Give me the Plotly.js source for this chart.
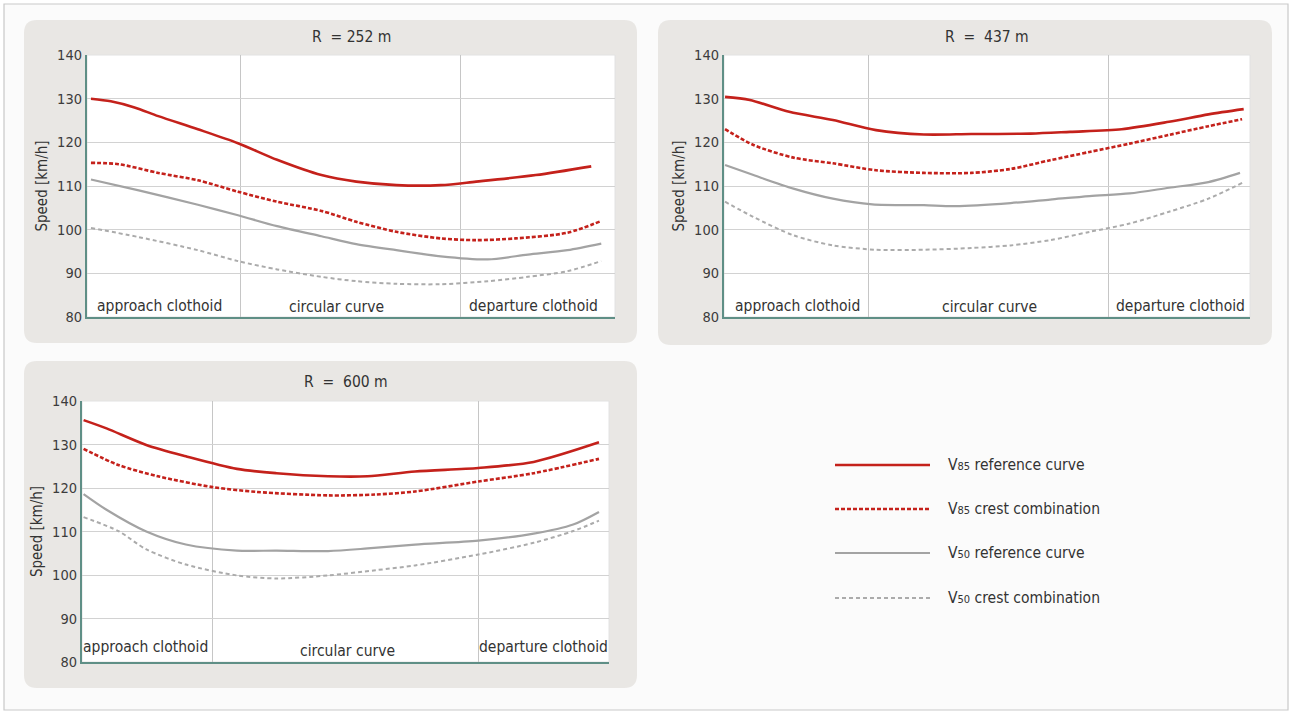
<!DOCTYPE html>
<html>
<head>
<meta charset="utf-8">
<script src="https://cdn.plot.ly/plotly-3.0.1.min.js"></script>
<style>html,body{margin:0;padding:0;background:#fff;}#chart{width:1291px;height:713px;}</style>
</head>
<body>
<div id="chart"></div>
<script>
// ---------------- DATA ----------------
const yTicks = [80, 90, 100, 110, 120, 130, 140];
const sectionLabels = ["approach clothoid", "circular curve", "departure clothoid"];
const panelTitles = ["R  = 252 m", "R  =  437 m", "R  =  600 m"];
const seriesNames = ["V85 reference curve", "V85 crest combination", "V50 reference curve", "V50 crest combination"];

// Panel 1: R = 252 m (x = relative position along the curve, 0..100)
const p1Bounds = [29.1, 70.8];
const p1_v85ref_x = [0.75, 4.5, 9, 13.5, 21, 28.6, 36, 44.4, 51, 58.6, 67, 73.7, 85, 95.5];
const p1_v85ref_y = [130, 129.4, 128, 126, 123, 119.8, 116, 112.5, 111, 110.2, 110.2, 111, 112.5, 114.5];
const p1_v85crest_x = [0.75, 6, 13.5, 21, 28.6, 36, 44.4, 51, 58.6, 67, 73.7, 81.2, 91, 97.4];
const p1_v85crest_y = [115.3, 115, 113, 111.3, 108.7, 106.4, 104.3, 101.8, 99.5, 98, 97.6, 98, 99.3, 102];
const p1_v50ref_x = [0.75, 9.8, 21, 28.6, 36, 44.4, 51, 58.6, 67, 75.9, 83.5, 91, 97.4];
const p1_v50ref_y = [111.5, 109, 105.7, 103.3, 100.8, 98.5, 96.7, 95.3, 93.9, 93.2, 94.3, 95.3, 96.8];
const p1_v50crest_x = [0.75, 9.8, 21, 28.6, 36, 44.4, 51, 58.6, 67, 75.9, 83.5, 91, 97.4];
const p1_v50crest_y = [100.4, 98.3, 95.3, 92.8, 90.9, 89.2, 88.2, 87.6, 87.5, 88.2, 89.2, 90.5, 92.8];

// Panel 2: R = 437 m
const p2Bounds = [27.4, 73.1];
const p2_v85ref_x = [0.2, 4.9, 12.4, 20.7, 28.9, 38, 47, 58.3, 65.8, 75.6, 84.6, 92.1, 98.8];
const p2_v85ref_y = [130.4, 129.7, 127, 125.1, 122.8, 121.8, 121.9, 122, 122.4, 123, 124.7, 126.4, 127.6];
const p2_v85crest_x = [0.2, 5.6, 13.2, 20.7, 28.9, 38, 47, 54.5, 62, 69.5, 77.1, 84.6, 92.1, 98.5];
const p2_v85crest_y = [123, 119.4, 116.5, 115.2, 113.6, 113, 113, 113.9, 115.9, 117.8, 119.7, 121.7, 123.7, 125.3];
const p2_v50ref_x = [0.2, 5.6, 13.2, 20.7, 28.2, 38, 44, 54.5, 62, 69.5, 77.1, 84.6, 92.1, 98.1];
const p2_v50ref_y = [114.8, 112.5, 109.4, 107.1, 105.8, 105.6, 105.4, 106.1, 106.9, 107.7, 108.3, 109.6, 110.9, 113];
const p2_v50crest_x = [0.2, 5.6, 13.2, 20.7, 28.9, 38, 47, 54.5, 62, 69.5, 77.1, 84.6, 92.1, 98.5];
const p2_v50crest_y = [106.4, 102.9, 98.7, 96.4, 95.4, 95.4, 95.8, 96.4, 97.6, 99.5, 101.4, 104.1, 107.1, 110.7];

// Panel 3: R = 600 m
const p3Bounds = [24.8, 75.2];
const p3_v85ref_x = [0.3, 4.65, 12.2, 19.7, 29.4, 36.9, 46.7, 54.2, 63.2, 75.2, 85.7, 98.1];
const p3_v85ref_y = [135.6, 133.7, 129.9, 127.3, 124.4, 123.4, 122.7, 122.7, 123.8, 124.6, 126, 130.5];
const p3_v85crest_x = [0.3, 6.9, 14.4, 24.8, 33.2, 46.7, 55.7, 63.2, 75.2, 85.7, 98.1];
const p3_v85crest_y = [129, 125.3, 122.7, 120.2, 119.1, 118.3, 118.5, 119.2, 121.5, 123.4, 126.7];
const p3_v50ref_x = [0.3, 4.65, 12.2, 19.7, 29.4, 36.9, 46.7, 54.2, 63.2, 75.2, 85.7, 93.2, 98.1];
const p3_v50ref_y = [118.6, 115, 110, 107, 105.6, 105.6, 105.5, 106.1, 107, 107.9, 109.5, 111.6, 114.5];
const p3_v50crest_x = [0.3, 6.9, 12.2, 19.7, 29.4, 36.9, 46.7, 55.7, 63.2, 75.2, 85.7, 93.2, 98.1];
const p3_v50crest_y = [113.3, 110.1, 105.9, 102.4, 99.9, 99.2, 99.9, 101.1, 102.2, 104.7, 107.4, 110.1, 112.5];

// ---------------- STYLE / LAYOUT ----------------
const W = 1291, H = 713;
const FONT = "'Liberation Sans Narrow', 'DejaVu Sans Condensed', 'Arial Narrow', sans-serif";
const RED = "#c4211b", GRAY = "#a3a3a3", GRAY2 = "#ababab";
const AXIS = "#5f8f86";
const TXT = 15.5;
const seriesStyle = [
  {color: RED, width: 2.6, dash: "solid"},
  {color: RED, width: 2.6, dash: "4px,2px"},
  {color: GRAY, width: 2.2, dash: "solid"},
  {color: GRAY2, width: 2.0, dash: "4px,3px"}
];

const panels = [
  {data: [[p1_v85ref_x, p1_v85ref_y], [p1_v85crest_x, p1_v85crest_y], [p1_v50ref_x, p1_v50ref_y], [p1_v50crest_x, p1_v50crest_y]],
   bounds: p1Bounds, plot: [87, 55, 615, 317], box: [24, 20, 637, 343], titleY: 37,
   labelX: [13.8, 47.3, 84.5], labelY: [82.6, 82.2, 82.6]},
  {data: [[p2_v85ref_x, p2_v85ref_y], [p2_v85crest_x, p2_v85crest_y], [p2_v50ref_x, p2_v50ref_y], [p2_v50crest_x, p2_v50crest_y]],
   bounds: p2Bounds, plot: [724, 55, 1250, 317], box: [658, 20, 1272, 345], titleY: 37,
   labelX: [13.9, 50.5, 86.7], labelY: [82.6, 82.2, 82.6]},
  {data: [[p3_v85ref_x, p3_v85ref_y], [p3_v85crest_x, p3_v85crest_y], [p3_v50ref_x, p3_v50ref_y], [p3_v50crest_x, p3_v50crest_y]],
   bounds: p3Bounds, plot: [82, 401, 609, 662], box: [24, 361, 637, 688], titleY: 382,
   labelX: [12.1, 50.3, 87.5], labelY: [83.4, 82.5, 83.4]}
];

const px = x => x / W;
const py = y => 1 - y / H;

function roundRect(x0, y0, x1, y1, r) {
  const X = v => px(v).toFixed(5), Y = v => py(v).toFixed(5);
  return `M ${X(x0 + r)},${Y(y0)} L ${X(x1 - r)},${Y(y0)} Q ${X(x1)},${Y(y0)} ${X(x1)},${Y(y0 + r)} ` +
         `L ${X(x1)},${Y(y1 - r)} Q ${X(x1)},${Y(y1)} ${X(x1 - r)},${Y(y1)} ` +
         `L ${X(x0 + r)},${Y(y1)} Q ${X(x0)},${Y(y1)} ${X(x0)},${Y(y1 - r)} ` +
         `L ${X(x0)},${Y(y0 + r)} Q ${X(x0)},${Y(y0)} ${X(x0 + r)},${Y(y0)} Z`;
}

const traces = [];
const layout = {
  width: W, height: H,
  margin: {l: 0, r: 0, t: 0, b: 0, pad: 0},
  paper_bgcolor: "#ffffff",
  plot_bgcolor: "rgba(0,0,0,0)",
  showlegend: false,
  font: {family: FONT, color: "#3a3a3a"},
  shapes: [
    {type: "rect", xref: "paper", yref: "paper", x0: px(4), x1: px(1288), y0: py(4), y1: py(710),
     line: {color: "#c9c9c9", width: 1.2}, fillcolor: "#fbfbfb", layer: "below"}
  ],
  annotations: []
};

panels.forEach((p, i) => {
  const n = i === 0 ? "" : String(i + 1);
  const xa = "x" + n, ya = "y" + n;
  p.data.forEach((d, k) => {
    const st = seriesStyle[k];
    traces.push({
      type: "scatter", mode: "lines", name: seriesNames[k],
      x: d[0], y: d[1], xaxis: xa, yaxis: ya,
      line: {color: st.color, width: st.width, dash: st.dash, shape: "spline", smoothing: 0.8},
      hoverinfo: "x+y+name"
    });
  });
  const [l, t, r, b] = p.plot;
  layout["xaxis" + n] = {
    domain: [px(l), px(r)], range: [0, 100], anchor: ya,
    tickvals: p.bounds, showticklabels: false, ticks: "",
    showgrid: true, gridcolor: "#c6c6c6", gridwidth: 1,
    zeroline: false, showline: true, linecolor: AXIS, linewidth: 2.2, fixedrange: true
  };
  layout["yaxis" + n] = {
    domain: [py(b), py(t)], range: [80, 140], anchor: xa,
    tickvals: yTicks, ticktext: yTicks.map(String), ticks: "",
    tickfont: {family: FONT, size: 14.5, color: "#3c3c3c"},
    showgrid: true, gridcolor: "#d2d2d2", gridwidth: 1,
    zeroline: false, showline: true, linecolor: AXIS, linewidth: 2.2, fixedrange: true,
    title: {text: "Speed [km/h]", font: {family: FONT, size: 15, color: "#333"}, standoff: 6}
  };
  const [bx0, by0, bx1, by1] = p.box;
  layout.shapes.push({type: "path", xref: "paper", yref: "paper", path: roundRect(bx0, by0, bx1, by1, 13),
    fillcolor: "#e9e7e4", line: {width: 0}, layer: "below"});
  // white plotting area
  layout.shapes.push({type: "rect", xref: "paper", yref: "paper", x0: px(l), x1: px(r), y0: py(b), y1: py(t),
    fillcolor: "#ffffff", line: {color: "#e2e2e2", width: 1}, layer: "below"});
  layout.annotations.push({xref: "paper", yref: "paper", x: px((l + r) / 2), y: py(p.titleY),
    text: panelTitles[i], showarrow: false, xanchor: "center", yanchor: "middle",
    font: {family: FONT, size: TXT, color: "#333"}});
  sectionLabels.forEach((s, j) => {
    layout.annotations.push({xref: xa, yref: ya, x: p.labelX[j], y: p.labelY[j], text: s,
      showarrow: false, xanchor: "center", yanchor: "middle",
      font: {family: FONT, size: TXT, color: "#333"}});
  });
});

// Legend (drawn manually to match the long sample lines)
const legendY = [465, 509, 553, 598];
seriesNames.forEach((name, k) => {
  const st = seriesStyle[k];
  layout.shapes.push({type: "line", xref: "paper", yref: "paper",
    x0: px(835), x1: px(930), y0: py(legendY[k]), y1: py(legendY[k]),
    line: {color: st.color, width: st.width, dash: st.dash}});
  const label = name.replace(/^V(\d\d)/, "V<span style=\"font-size:11px\">$1</span>");
  layout.annotations.push({xref: "paper", yref: "paper", x: px(946), y: py(legendY[k]),
    text: label, showarrow: false, xanchor: "left", yanchor: "middle",
    font: {family: FONT, size: TXT, color: "#333"}});
});

Plotly.newPlot("chart", traces, layout, {displayModeBar: false, staticPlot: false});
</script>
</body>
</html>
